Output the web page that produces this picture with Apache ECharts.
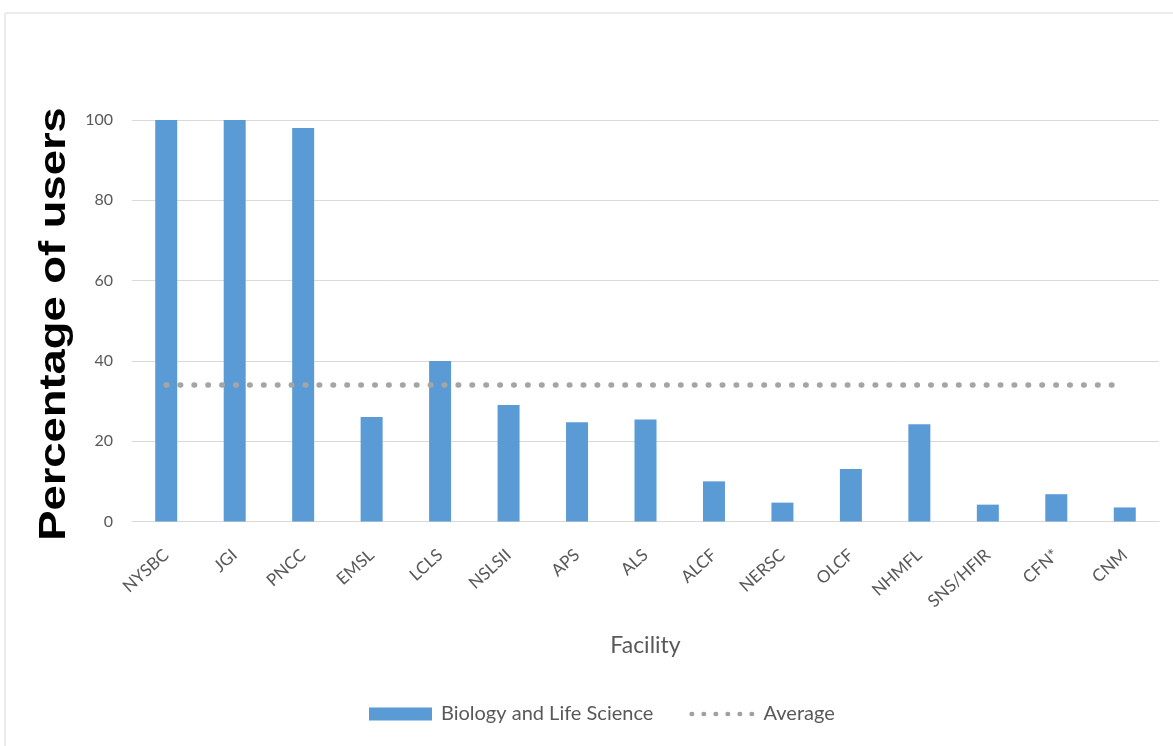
<!DOCTYPE html>
<html>
<head>
<meta charset="utf-8">
<script src="https://cdn.jsdelivr.net/npm/echarts@6/dist/echarts.min.js"></script>
<style>
  html, body { margin: 0; padding: 0; background: #ffffff; }
  #chart { width: 1173px; height: 746px; }
</style>
</head>
<body>
<div id="chart"></div>
<script>
// Facilities along the x axis
const facilities = ['NYSBC', 'JGI', 'PNCC', 'EMSL', 'LCLS', 'NSLSII', 'APS', 'ALS',
  'ALCF', 'NERSC', 'OLCF', 'NHMFL', 'SNS/HFIR', 'CFN*', 'CNM'];

// Share of users in Biology and Life Science, per facility (%)
const biologyShare = [100, 100, 98, 26, 40, 29, 24.7, 25.4, 10, 4.7, 13.1, 24.2, 4.2, 6.8, 3.5];

// Average across all facilities (%)
const averageShare = [34, 34, 34, 34, 34, 34, 34, 34, 34, 34, 34, 34, 34, 34, 34];

// Value axis ticks
const yTicks = [0, 20, 40, 60, 80, 100];

const yTitle = 'Percentage of users';
const labelFont = 'Lato, "Open Sans", sans-serif';
const chart = echarts.init(document.getElementById('chart'));

chart.setOption({
  backgroundColor: '#ffffff',
  animation: false,
  graphic: [
    {
      // outer chart frame
      type: 'rect',
      shape: { x: 5, y: 13, width: 1175, height: 745 },
      style: { fill: 'none', stroke: '#d9d9d9', lineWidth: 1 },
      silent: true
    },
    {
      // y axis title, drawn tall and condensed
      type: 'text',
      x: 55,
      y: 324,
      rotation: Math.PI / 2,
      scaleX: 1.26,
      style: {
        text: yTitle,
        fontFamily: '"Liberation Sans", Arial, sans-serif',
        fontWeight: 'bold',
        fontSize: 36,
        fill: '#000000',
        align: 'center',
        verticalAlign: 'middle'
      },
      silent: true
    }
  ],
  grid: { left: 132, right: 14, top: 120, bottom: 224.5, containLabel: false },
  legend: {
    bottom: 17,
    left: 364,
    itemGap: 36,
    itemWidth: 63,
    itemHeight: 13,
    textStyle: { fontFamily: labelFont, fontSize: 20, color: '#595959', padding: [0, 0, 0, 4] },
    data: [
      { name: 'Biology and Life Science', icon: 'rect' },
      { name: 'Average', itemStyle: { opacity: 0 }, lineStyle: { width: 4.5, color: '#a0a0a0', type: [0.5, 11.5], cap: 'round' } }
    ]
  },
  xAxis: {
    type: 'category',
    data: facilities,
    name: 'Facility',
    nameLocation: 'middle',
    nameGap: 113,
    nameTextStyle: { fontFamily: labelFont, fontSize: 23, color: '#595959' },
    axisLine: { show: true, lineStyle: { color: '#d9d9d9', width: 1 } },
    axisTick: { show: false },
    axisLabel: {
      rotate: 42,
      margin: 31,
      interval: 0,
      fontFamily: labelFont,
      fontSize: 17,
      color: '#595959'
    }
  },
  yAxis: {
    type: 'value',
    min: yTicks[0],
    max: yTicks[yTicks.length - 1],
    interval: yTicks[1] - yTicks[0],
    axisLine: { show: false },
    axisTick: { show: false },
    axisLabel: { margin: 19, fontFamily: labelFont, fontSize: 16, color: '#595959' },
    splitLine: { lineStyle: { color: '#d9d9d9', width: 1 } }
  },
  series: [
    {
      name: 'Biology and Life Science',
      type: 'bar',
      data: biologyShare,
      barWidth: 22,
      itemStyle: { color: '#5b9bd5' }
    },
    {
      name: 'Average',
      type: 'line',
      data: averageShare,
      symbol: 'none',
      showSymbol: false,
      itemStyle: { color: '#a5a5a5' },
      lineStyle: {
        color: '#a5a5a5',
        width: 5.5,
        cap: 'round',
        type: [0.5, 13.4]
      }
    }
  ]
});
</script>
</body>
</html>
